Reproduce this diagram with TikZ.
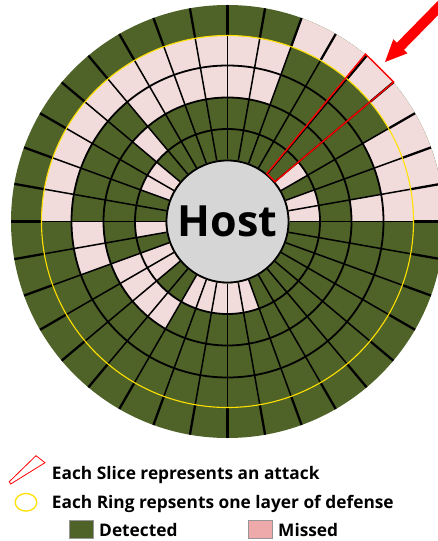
\documentclass[tikz,border=0pt]{standalone}
\usepackage{fontspec}
\setmainfont{Open Sans}
\definecolor{dgreen}{HTML}{4F6228}
\definecolor{lpink}{HTML}{F2DCDB}
\definecolor{legpink}{HTML}{EEAAAA}
\definecolor{hostgray}{HTML}{D6D6D6}
\definecolor{ringyellow}{HTML}{FFE000}
\begin{document}
\begin{tikzpicture}[x=1bp,y=-1bp,
  radial/.style={black,line width=1.5bp},
  outerradial/.style={black,line width=2.3bp},
  ringline/.style={black,line width=1.8bp},
  yellowline/.style={ringyellow,line width=1.1bp},
  hostnode/.style={circle,draw=black,line width=1.8bp,fill=hostgray,minimum size=122bp,inner sep=0pt,font=\fontsize{43bp}{50bp}\selectfont\bfseries},
  slicebox/.style={draw=red,line width=1.4bp},
  legtext/.style={inner sep=0pt,font=\fontsize{17.3bp}{20bp}\selectfont\bfseries},
  swatch/.style={draw={rgb,255:red,150;green,150;blue,150},line width=0.9bp,minimum width=24bp,minimum height=18.3bp,inner sep=0pt}]
\useasboundingbox (0,0) rectangle (438,541);
\fill[white] (0,0) rectangle (438,541);
\begin{scope}[shift={(227.5,221.5)},yscale=-1]
  \fill[dgreen] (0,0) circle[radius=216.5];
  \foreach \ri/\ro/\lst in {62/92.5/{0,1,3,14,15,18,20,21,24,25,26,27,28},
                            92.5/124/{13,20,21,22,23},
                            124/156/{0,7,8,9,10,11,12,18,19},
                            156/186/{0,1,2,7,8,9,10,11,12,13,14,15,16,17},
                            186/216.5/{0,1,2,3,4,5,6}}{
    \foreach \k in \lst {
      \fill[lpink] (\k*10:\ri) arc[start angle=\k*10,end angle=\k*10+10,radius=\ri]
        -- (\k*10+10:\ro) arc[start angle=\k*10+10,end angle=\k*10,radius=\ro] -- cycle;
    }
  }
  \foreach \a in {0,10,...,350}{
    \draw[radial] (\a:62) -- (\a:186);
    \draw[outerradial] (\a:186) -- (\a:216.5);
  }
  \draw[ringline] (0,0) circle[radius=92.5];
  \draw[ringline] (0,0) circle[radius=124];
  \draw[ringline] (0,0) circle[radius=156];
  \draw[yellowline] (0,0) circle[radius=186];
  \node[hostnode] (host) at (0,0) {Host};
  \draw[slicebox] (40:62) -- (40:217) -- (50.5:217) -- (50.5:62) -- cycle;
\end{scope}
% pointer arrow
\fill[red] (385,62) -- (393.3,39.3) -- (396.8,42.8) -- (445.8,-7.1) -- (453,-0.1) -- (404,49.8) -- (407.5,53.3) -- cycle;
% legend
\draw[red,line width=0.8bp] (9.3,481.7) -- (36,455.7) -- (45,462.7) -- (10.7,484) -- cycle;
\draw[ringyellow,line width=1.3bp] (26,502.3) ellipse[x radius=10.8,y radius=8.8];
\node[legtext,anchor=base west] (t1) at (51.7,479) {Each Slice represents an attack};
\node[legtext,anchor=base west] (t2) at (51.7,508.5) {Each Ring repsents one layer of defense};
\node[swatch,fill=dgreen] (sg) at (81.3,529.2) {};
\node[legtext,anchor=base west] (t3) at (99,536.5) {Detected};
\node[swatch,fill=legpink] (sp) at (260.5,529.2) {};
\node[legtext,anchor=base west] (t4) at (278,536.5) {Missed};
\end{tikzpicture}
\end{document}
